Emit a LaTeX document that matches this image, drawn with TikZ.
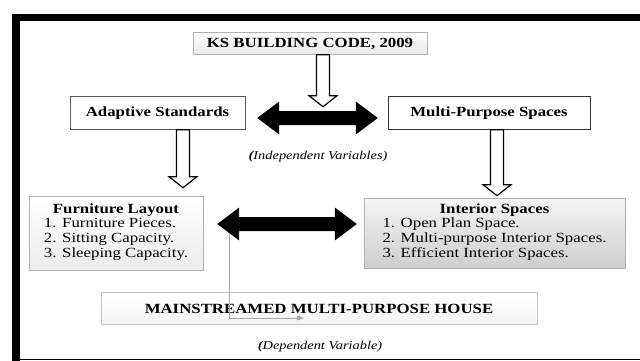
\documentclass[tikz,border=0pt]{standalone}
\usepackage{fontspec}
\setmainfont[FakeStretch=1.2]{Liberation Serif}
\usetikzlibrary{arrows.meta,calc}

\tikzset{
    box/.style={draw=gray!60, inner sep=0pt, font=\fontsize{14}{15}\selectfont\bfseries},
    listbox/.style={box, align=center, font=\fontsize{14}{15}\selectfont},
    hollow/.style={draw=black, fill=white, line width=1.2pt},
    feed/.style={draw=gray!70, line width=1pt, -{Triangle[length=7pt,width=5pt]}},
    note/.style={font=\fontsize{12}{12}\selectfont\itshape}
}
% open block arrow going down: start anchor, x offset, length
\newcommand\hollowdown[3]{
    \draw[hollow] ($(#1)+(#2-6.5,0)$) -- ++(0,#3-11) -- ++(-7.5,0) -- ++(14,11)
        -- ++(14,-11) -- ++(-7.5,0) -- ++(0,11-#3) -- cycle;
}
% solid two-way arrow between two named coordinates
\newcommand\twoway[2]{
    \fill (#1) -- ($(#1)+(22,-16.5)$) -- ($(#1)+(22,-7)$) -- ($(#2)+(-22,-7)$)
        -- ($(#2)+(-22,-16.5)$) -- (#2) -- ($(#2)+(-22,16.5)$) -- ($(#2)+(-22,7)$)
        -- ($(#1)+(22,7)$) -- ($(#1)+(22,16.5)$) -- cycle;
}

\begin{document}
\begin{tikzpicture}[x=1pt, y=-1pt]
    \useasboundingbox (0, 0) rectangle (640, 361);
    % frame
    \fill (12, 14) rectangle (640, 21);
    \fill (12, 14) rectangle (20, 361);
    \draw[line width=1.5pt] (12, 359.5) -- (640, 359.5);

    \node (code) at (310, 43.5)[box, top color=white, bottom color=gray!18,
        minimum width=234pt, minimum height=22pt]{KS BUILDING CODE, 2009};
    \node (adapt) at (157.5, 113)[box, draw=gray!70!black, fill=white,
        minimum width=175pt, minimum height=33pt]{Adaptive Standards};
    \node (multi) at (489, 113)[box, draw=black!80, fill=white,
        minimum width=202pt, minimum height=33pt]{Multi-Purpose Spaces};
    \node (furn) at (116, 233)[listbox, top color=white, bottom color=gray!15,
        minimum width=174pt, minimum height=74pt]{\textbf{Furniture Layout}\\
        \begin{tabular}{@{}l@{}}1. Furniture Pieces.\\2. Sitting Capacity.\\3. Sleeping Capacity.\end{tabular}};
    \node (inter) at (494.5, 233)[listbox, top color=gray!8, bottom color=gray!38,
        minimum width=261pt, minimum height=70pt]{\textbf{Interior Spaces}\\
        \begin{tabular}{@{}l@{}}1. Open Plan Space.\\2. Multi-purpose Interior Spaces.\\3. Efficient Interior Spaces.\end{tabular}};
    \node (house) at (319, 308.5)[box, draw=gray!45, top color=white, bottom color=gray!8,
        minimum width=436pt, minimum height=32pt]{MAINSTREAMED MULTI-PURPOSE HOUSE};

    \node (indep) at (318, 157)[note]{\textbf{(}Independent Variables)};
    \node (dep) at (320, 347)[note]{\textbf{(}Dependent Variable)};

    \hollowdown{code.south}{13}{52}
    \hollowdown{adapt.south}{25.5}{58}
    \hollowdown{multi.south}{8}{66}

    \coordinate (split) at (229, 224);
    \coordinate (hit) at (304, 318);
    \draw[feed] (split) |- (hit);

    \coordinate (al) at ($(adapt.east)+(12, 5)$);
    \coordinate (ar) at ($(multi.west)+(-10, 5)$);
    \twoway{al}{ar}
    \coordinate (bl) at ($(furn.east)+(14, -9)$);
    \coordinate (br) at ($(inter.west)+(-7, -9)$);
    \twoway{bl}{br}
\end{tikzpicture}
\end{document}
